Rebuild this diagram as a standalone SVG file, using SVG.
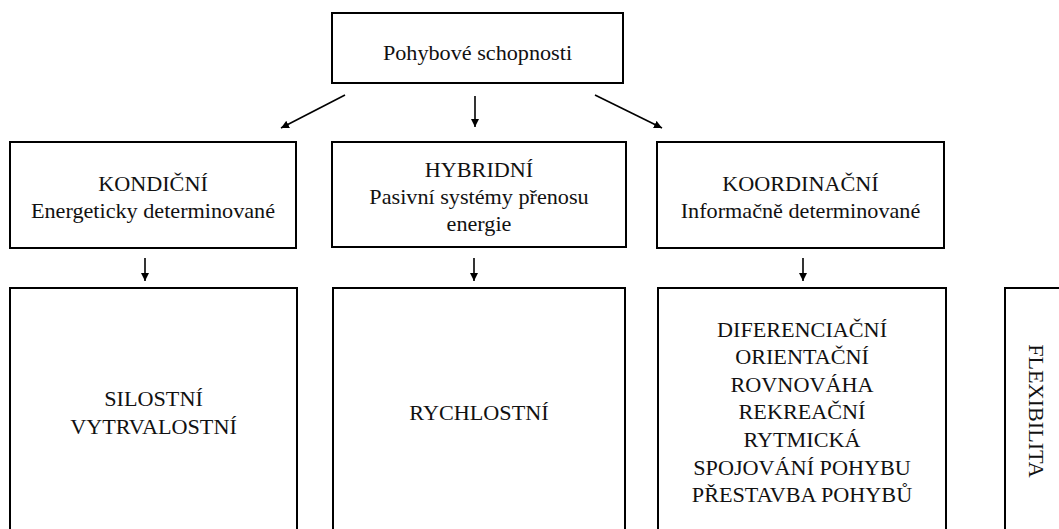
<svg xmlns="http://www.w3.org/2000/svg" width="1059" height="529" viewBox="0 0 1059 529">
  <style>
    .box { fill: #ffffff; stroke: #000000; stroke-width: 2; }
    .t { font-family: 'Liberation Serif', 'DejaVu Serif', 'Times New Roman', serif; font-size: 20px; fill: #111111; text-anchor: middle; }
    .conn { stroke: #000000; stroke-width: 1.6; fill: none; marker-end: url(#arrow); }
  </style>
  <defs>
    <marker id="arrow" markerUnits="userSpaceOnUse" markerWidth="10" markerHeight="8" refX="8" refY="4" orient="auto">
      <path d="M0,0 L8,4 L0,8 Z" fill="#000000"/>
    </marker>
  </defs>
  <rect width="1059" height="529" fill="#ffffff"/>

  <g id="root">
    <rect class="box" x="332" y="13" width="291" height="70"/>
    <g transform="translate(477.5,0) scale(1.11,1)"><text class="t" font-family="Liberation Serif, serif" x="0" y="60">Pohybové schopnosti</text></g>
  </g>

  <g id="kondicni">
    <rect class="box" x="10" y="142" width="286" height="106"/>
    <g transform="translate(153,0) scale(1.11,1)" font-family="Liberation Serif, serif">
      <text class="t" x="0" y="191">KONDIČNÍ</text>
      <text class="t" x="0" y="218.5">Energeticky determinované</text>
    </g>
  </g>

  <g id="hybridni">
    <rect class="box" x="332" y="142" width="294" height="105"/>
    <g transform="translate(479,0) scale(1.11,1)">
      <text class="t" x="0" y="177">HYBRIDNÍ</text>
      <text class="t" x="0" y="204">Pasivní systémy přenosu</text>
      <text class="t" x="0" y="231">energie</text>
    </g>
  </g>

  <g id="koordinacni">
    <rect class="box" x="657" y="142" width="287" height="106"/>
    <g transform="translate(800.5,0) scale(1.11,1)">
      <text class="t" x="0" y="191">KOORDINAČNÍ</text>
      <text class="t" x="0" y="218.5">Informačně determinované</text>
    </g>
  </g>

  <g id="silostni">
    <rect class="box" x="10" y="288" width="287" height="260"/>
    <g transform="translate(153.5,0) scale(1.11,1)">
      <text class="t" x="0" y="406">SILOSTNÍ</text>
      <text class="t" x="0" y="434">VYTRVALOSTNÍ</text>
    </g>
  </g>

  <g id="rychlostni">
    <rect class="box" x="333" y="288" width="292" height="260"/>
    <g transform="translate(479,0) scale(1.11,1)">
      <text class="t" x="0" y="420">RYCHLOSTNÍ</text>
    </g>
  </g>

  <g id="koordinacni-list">
    <rect class="box" x="658" y="288" width="288" height="260"/>
    <g transform="translate(802,0) scale(1.11,1)">
      <text class="t" x="0" y="336.7">DIFERENCIAČNÍ</text>
      <text class="t" x="0" y="364.3">ORIENTAČNÍ</text>
      <text class="t" x="0" y="391.9">ROVNOVÁHA</text>
      <text class="t" x="0" y="419.5">REKREAČNÍ</text>
      <text class="t" x="0" y="447.1">RYTMICKÁ</text>
      <text class="t" x="0" y="474.7">SPOJOVÁNÍ POHYBU</text>
      <text class="t" x="0" y="502.3">PŘESTAVBA POHYBŮ</text>
    </g>
  </g>

  <g id="flexibilita">
    <rect class="box" x="1005" y="288" width="80" height="260"/>
    <g transform="translate(1029,411) rotate(90) scale(1.11,1)">
      <text class="t" x="0" y="0">FLEXIBILITA</text>
    </g>
  </g>

  <g id="connectors">
    <line class="conn" x1="345" y1="95" x2="281" y2="128"/>
    <line class="conn" x1="475" y1="96" x2="475" y2="127"/>
    <line class="conn" x1="595" y1="95" x2="662" y2="128"/>
    <line class="conn" x1="145" y1="258" x2="145" y2="281"/>
    <line class="conn" x1="474" y1="258" x2="474" y2="281"/>
    <line class="conn" x1="803" y1="258" x2="803" y2="281"/>
  </g>
</svg>
